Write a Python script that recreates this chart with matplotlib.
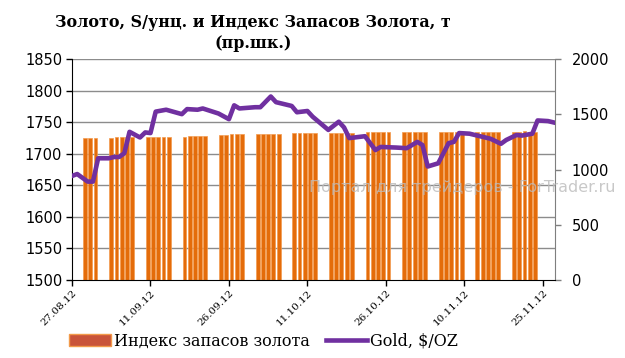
import numpy as np
import pandas as pd
import matplotlib
matplotlib.use("Agg")
import matplotlib.pyplot as plt

# gold price, $/oz (left scale)
gold_dates = ["27.08.12", "28.08.12", "30.08.12", "31.08.12", "01.09.12", "03.09.12",
              "04.09.12", "05.09.12", "06.09.12", "07.09.12", "09.09.12", "10.09.12",
              "11.09.12", "12.09.12", "14.09.12", "17.09.12", "18.09.12", "20.09.12",
              "21.09.12", "24.09.12", "26.09.12", "27.09.12", "28.09.12", "01.10.12",
              "02.10.12", "04.10.12", "05.10.12", "08.10.12", "09.10.12", "11.10.12",
              "12.10.12", "13.10.12", "15.10.12", "17.10.12", "18.10.12", "19.10.12",
              "22.10.12", "23.10.12", "24.10.12", "25.10.12", "28.10.12", "30.10.12",
              "01.11.12", "02.11.12", "03.11.12", "05.11.12", "07.11.12", "08.11.12",
              "09.11.12", "11.11.12", "14.11.12", "15.11.12", "17.11.12", "18.11.12",
              "20.11.12", "21.11.12", "23.11.12", "24.11.12", "26.11.12", "27.11.12"]
gold_values = [1665, 1668, 1656, 1656, 1693, 1693,
               1695, 1695, 1701, 1735, 1726, 1734,
               1733, 1767, 1770, 1763, 1771, 1770,
               1772, 1764, 1755, 1777, 1772, 1774,
               1774, 1791, 1782, 1776, 1766, 1768,
               1759, 1752, 1738, 1751, 1742, 1725,
               1728, 1717, 1706, 1711, 1710, 1709,
               1719, 1714, 1680, 1685, 1717, 1719,
               1733, 1732, 1726, 1724, 1716, 1722,
               1730, 1729, 1732, 1753, 1752, 1750]

# gold stocks index, t (right scale), weekdays
index_dates = pd.bdate_range("2012-08-29", "2012-11-23")
index_values = [1290, 1290, 1290,
                1290, 1292, 1292, 1292, 1292,
                1292, 1292, 1293, 1293, 1293,
                1300, 1305, 1306, 1306, 1306,
                1310, 1318, 1325, 1325, 1320,
                1322, 1322, 1322, 1322, 1322,
                1330, 1330, 1330, 1330, 1330,
                1335, 1335, 1336, 1336, 1336,
                1338, 1338, 1338, 1338, 1338,
                1338, 1338, 1338, 1338, 1340,
                1340, 1340, 1340, 1340, 1340,
                1340, 1340, 1342, 1342, 1345,
                1345, 1345, 1348, 1345, 1345]

tick_labels = ["27.08.12", "11.09.12", "26.09.12", "11.10.12", "26.10.12", "10.11.12", "25.11.12"]

gd = pd.to_datetime(gold_dates, format="%d.%m.%y")
ticks = pd.to_datetime(tick_labels, format="%d.%m.%y")

fig = plt.figure(figsize=(6.25, 3.58), dpi=100)
ax = fig.add_axes([0.1152, 0.2179, 0.7728, 0.6165])
ax2 = ax.twinx()

ax2.bar(index_dates + pd.Timedelta(hours=12), index_values, width=0.74,
        color="#E46C0A", edgecolor="#F39A4E", linewidth=0.5, zorder=2)
ax2.set_ylim(0, 2000)
ax2.set_yticks(np.arange(0, 2001, 500))
# horizontal grid at the left-scale ticks, under the bars
for v in np.arange(1550, 1851, 50):
    ax2.axhline((v - 1500) / 350 * 2000, color="#8C8C8C", linewidth=1.0, zorder=1)

ax.plot(gd, gold_values, color="#7030A0", linewidth=3.3, solid_joinstyle="round", zorder=5)
ax.set_ylim(1500, 1850)
ax.set_yticks(np.arange(1500, 1851, 50))
ax.set_xlim(gd[0], gd[-1] + pd.Timedelta(hours=8))
ax.set_xticks(ticks)
ax.set_xticklabels(tick_labels, rotation=45, ha="right", rotation_mode="anchor",
                   fontsize=7.5, family="DejaVu Serif")

# line above bars
ax.set_zorder(ax2.get_zorder() + 1)
ax.patch.set_visible(False)
ax2.patch.set_facecolor("white")

for a in (ax, ax2):
    a.spines["top"].set_visible(False)
ax.spines["right"].set_visible(False)
ax2.spines["left"].set_visible(False)
ax2.spines["bottom"].set_visible(False)
ax2.spines["right"].set_color("#7F7F7F")
ax.tick_params(axis="y", labelsize=10.5, length=4, width=1, pad=3)
ax.tick_params(axis="x", length=4, width=1, pad=2)
ax2.tick_params(axis="y", labelsize=10.5, length=4, width=1, color="#7F7F7F", pad=8)

fig.text(0.405, 0.96, "Золото, S/унц. и Индекс Запасов Золота, т\n(пр.шк.)",
         ha="center", va="top", fontsize=11.5, fontweight="bold", family="DejaVu Serif",
         linespacing=1.25)

fig.text(0.495, 0.475, "Портал для трейдеров - ForTrader.ru", ha="left", va="center",
         fontsize=11.5, color="#BBBBBB", alpha=0.8, zorder=20)

h1 = plt.Rectangle((0, 0), 1, 1, facecolor="#C9543A", edgecolor="#F29A4A", linewidth=1)
h2 = plt.Line2D([], [], color="#7030A0", linewidth=3.3)
fig.legend([h1, h2], ["Индекс запасов золота", "Gold, $/OZ"], loc="center",
           bbox_to_anchor=(0.422, 0.047), ncol=2, frameon=False,
           prop={"family": "DejaVu Serif", "size": 11.5}, handlelength=2.6,
           handletextpad=0.2, columnspacing=1.0)

fig.savefig("out.png", dpi=100)
